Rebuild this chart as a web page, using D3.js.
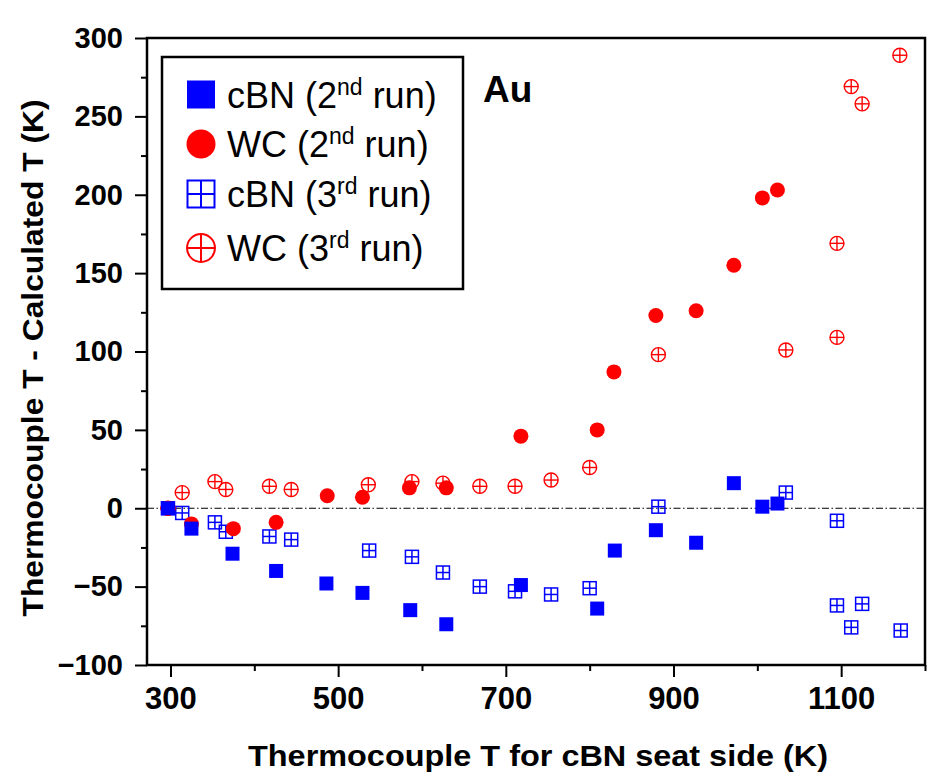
<!DOCTYPE html>
<html>
<head>
<meta charset="utf-8">
<script src="https://cdn.jsdelivr.net/npm/d3@7"></script>
<style>
  html, body { margin: 0; padding: 0; background: #fff; }
  svg { display: block; }
  text { font-family: "Liberation Sans", Arial, sans-serif; }
</style>
</head>
<body>
<svg id="chart" width="927" height="775"></svg>
<script>
// ---- data ----
const cbn2X = [297, 325, 374, 426, 486, 529, 586, 629, 718, 809, 830, 879, 927, 972, 1006, 1024];
const cbn2Y = [0, -13, -29, -40, -48, -54, -65, -74, -49, -64, -27, -14, -22, 16, 1, 3];

const wc2X = [297, 325, 375, 426, 487, 529, 585, 629, 718, 809, 829, 879, 927, 972, 1006, 1024];
const wc2Y = [0, -10, -13, -9, 8, 7, 13, 13, 46, 50, 87, 123, 126, 155, 198, 203];

const cbn3X = [297, 314, 353, 366, 418, 444, 537, 588, 625, 669, 711, 754, 800, 882, 1034, 1095, 1095, 1125, 1112, 1171];
const cbn3Y = [0, -3, -9, -15, -18, -20, -27, -31, -41, -50, -53, -55, -51, 1, 10, -8, -62, -61, -76, -78];

const wc3X = [297, 314, 353, 366, 418, 444, 536, 588, 625, 669, 711, 754, 800, 882, 1034, 1095, 1095, 1112, 1125, 1170];
const wc3Y = [0, 10, 17, 12, 14, 12, 15, 17, 16, 14, 14, 18, 26, 98, 101, 109, 169, 269, 258, 289];

const xMajorTicks = [300, 500, 700, 900, 1100];
const xMinorTicks = [400, 600, 800, 1000, 1200];
const yMajorTicks = [-100, -50, 0, 50, 100, 150, 200, 250, 300];
const yMinorTicks = [-75, -25, 25, 75, 125, 175, 225, 275];

const legendLabels = [
  {pre: "cBN (2", sup: "nd", post: " run)", key: "cbn2"},
  {pre: "WC (2", sup: "nd", post: " run)", key: "wc2"},
  {pre: "cBN (3", sup: "rd", post: " run)", key: "cbn3"},
  {pre: "WC (3", sup: "rd", post: " run)", key: "wc3"}
];

const xTitle = "Thermocouple T for cBN seat side (K)";
const yTitle = "Thermocouple T - Calculated T (K)";
const panelLabel = "Au";

// ---- layout ----
const svg = d3.select("#chart");
const L = 147, R = 925, T = 38, B = 665;
const x = d3.scaleLinear().domain([272, 1200]).range([L, R]);
const y = d3.scaleLinear().domain([-100, 300]).range([B, T]);
const BLUE = "#0000ff", RED = "#ff0000";

const zip = (xs, ys) => xs.map((v, i) => ({x: v, y: ys[i]}));

// zero line
svg.append("line")
  .attr("x1", L).attr("x2", R)
  .attr("y1", y(0)).attr("y2", y(0))
  .attr("stroke", "#000").attr("stroke-width", 1.1)
  .attr("stroke-dasharray", "7,2.5,1.5,2.5");

// ---- marker painters ----
function gridSquare(g, cx, cy, s, color, sw) {
  const h = s / 2;
  g.append("rect").attr("x", cx - h).attr("y", cy - h).attr("width", s).attr("height", s)
    .attr("fill", "none").attr("stroke", color).attr("stroke-width", sw);
  g.append("line").attr("x1", cx - h).attr("x2", cx + h).attr("y1", cy).attr("y2", cy)
    .attr("stroke", color).attr("stroke-width", sw);
  g.append("line").attr("x1", cx).attr("x2", cx).attr("y1", cy - h).attr("y2", cy + h)
    .attr("stroke", color).attr("stroke-width", sw);
}
function circlePlus(g, cx, cy, r, color, sw) {
  g.append("circle").attr("cx", cx).attr("cy", cy).attr("r", r)
    .attr("fill", "none").attr("stroke", color).attr("stroke-width", sw);
  g.append("line").attr("x1", cx - r).attr("x2", cx + r).attr("y1", cy).attr("y2", cy)
    .attr("stroke", color).attr("stroke-width", sw);
  g.append("line").attr("x1", cx).attr("x2", cx).attr("y1", cy - r).attr("y2", cy + r)
    .attr("stroke", color).attr("stroke-width", sw);
}

const plot = svg.append("g");

// cBN 3rd run (open grid squares)
const gC3 = plot.append("g");
zip(cbn3X, cbn3Y).forEach(d => gridSquare(gC3, x(d.x), y(d.y), 13, BLUE, 1.5));

// WC 3rd run (circle plus)
const gW3 = plot.append("g");
zip(wc3X, wc3Y).forEach(d => circlePlus(gW3, x(d.x), y(d.y), 7, RED, 1.4));

// WC 2nd run (filled circles)
plot.append("g").selectAll("circle").data(zip(wc2X, wc2Y)).join("circle")
  .attr("cx", d => x(d.x)).attr("cy", d => y(d.y)).attr("r", 7.5).attr("fill", RED);

// cBN 2nd run (filled squares)
plot.append("g").selectAll("rect").data(zip(cbn2X, cbn2Y)).join("rect")
  .attr("x", d => x(d.x) - 7).attr("y", d => y(d.y) - 7)
  .attr("width", 14).attr("height", 14).attr("fill", BLUE);

// ---- axes ----
const tickFont = "bold 29px 'Liberation Sans', Arial, sans-serif";

const xAxisMajor = d3.axisBottom(x).tickValues(xMajorTicks).tickSize(12).tickPadding(10).tickFormat(d3.format("d"));
const xAxisMinor = d3.axisBottom(x).tickValues(xMinorTicks).tickSize(6).tickFormat("");
const yAxisMajor = d3.axisLeft(y).tickValues(yMajorTicks).tickSize(12).tickPadding(12).tickFormat(d3.format("d"));
const yAxisMinor = d3.axisLeft(y).tickValues(yMinorTicks).tickSize(6).tickFormat("");

function styleAxis(g) {
  g.select(".domain").remove();
  g.selectAll(".tick line").attr("stroke", "#000").attr("stroke-width", 2);
  g.selectAll(".tick text").style("font", tickFont).attr("fill", "#000");
}

svg.append("g").attr("transform", `translate(0,${B})`).call(xAxisMinor).call(styleAxis);
svg.append("g").attr("transform", `translate(0,${B})`).call(xAxisMajor).call(styleAxis)
  .selectAll(".tick text").style("font", "bold 31px 'Liberation Sans', Arial, sans-serif");
svg.append("g").attr("transform", `translate(${L},0)`).call(yAxisMinor).call(styleAxis);
svg.append("g").attr("transform", `translate(${L},0)`).call(yAxisMajor).call(styleAxis);

// frame
svg.append("rect").attr("x", L).attr("y", T).attr("width", R - L).attr("height", B - T)
  .attr("fill", "none").attr("stroke", "#000").attr("stroke-width", 2.5);

// axis titles
svg.append("text")
  .attr("x", 538).attr("y", 766)
  .attr("text-anchor", "middle")
  .attr("textLength", 580).attr("lengthAdjust", "spacingAndGlyphs")
  .style("font", "bold 30px 'Liberation Sans', Arial, sans-serif")
  .text(xTitle);

svg.append("text")
  .attr("transform", "translate(43,358) rotate(-90)")
  .attr("text-anchor", "middle")
  .attr("textLength", 517).attr("lengthAdjust", "spacingAndGlyphs")
  .style("font", "bold 29px 'Liberation Sans', Arial, sans-serif")
  .text(yTitle);

// panel label
svg.append("text").attr("x", 483).attr("y", 102)
  .style("font", "bold 37px 'Liberation Sans', Arial, sans-serif")
  .text(panelLabel);

// ---- legend ----
const lg = svg.append("g");
lg.append("rect").attr("x", 162).attr("y", 57).attr("width", 301).attr("height", 232)
  .attr("fill", "#fff").attr("stroke", "#000").attr("stroke-width", 2.5);

const rowY = [94.5, 144, 194, 248];
legendLabels.forEach((item, i) => {
  const cy = rowY[i], cx = 201;
  if (item.key === "cbn2") {
    lg.append("rect").attr("x", cx - 14).attr("y", cy - 14).attr("width", 28).attr("height", 28).attr("fill", BLUE);
  } else if (item.key === "wc2") {
    lg.append("circle").attr("cx", cx).attr("cy", cy).attr("r", 14.5).attr("fill", RED);
  } else if (item.key === "cbn3") {
    gridSquare(lg, cx, cy, 27, BLUE, 2);
  } else {
    circlePlus(lg, cx, cy, 14, RED, 2);
  }
  const t = lg.append("text").attr("x", 227).attr("y", cy + 13)
    .style("font", "36px 'Liberation Sans', Arial, sans-serif");
  t.append("tspan").text(item.pre);
  t.append("tspan").attr("dy", -13).style("font-size", "23px").text(item.sup);
  t.append("tspan").attr("dy", 13).text(item.post);
});
</script>
</body>
</html>
